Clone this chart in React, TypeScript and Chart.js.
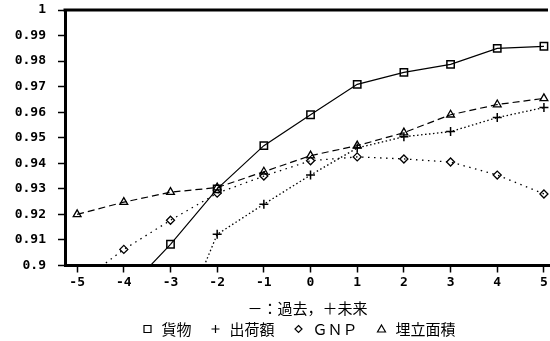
import React, { useEffect, useRef } from "react";
import { Chart, registerables } from "chart.js";

Chart.register(...registerables);

// lead/lag offsets (negative = past, positive = future)
const offsets = [-5, -4, -3, -2, -1, 0, 1, 2, 3, 4, 5];

// correlation series per offset (values below 0.9 run off the bottom of the plot)
const cargo = [null, 0.889, 0.9083, 0.930, 0.9469, 0.959, 0.9709, 0.9756, 0.9787, 0.985, 0.9858];
const shipments = [null, null, 0.868, 0.9122, 0.924, 0.9354, 0.946, 0.9504, 0.9524, 0.9579, 0.9618];
const gnp = [0.8925, 0.9063, 0.9177, 0.9283, 0.935, 0.941, 0.9425, 0.9417, 0.9405, 0.9354, 0.928];
const landfill = [0.920, 0.9248, 0.9287, 0.9305, 0.9367, 0.943, 0.9469, 0.952, 0.959, 0.963, 0.9654];

const seriesNames = ["貨物", "出荷額", "ＧＮＰ", "埋立面積"];
const axisCaption = "－：過去，＋未来";

const yTicks = [0.9, 0.91, 0.92, 0.93, 0.94, 0.95, 0.96, 0.97, 0.98, 0.99, 1];
const yTickLabels = ["0.9", "0.91", "0.92", "0.93", "0.94", "0.95", "0.96", "0.97", "0.98", "0.99", "1"];
const xTicks = [-5, -4, -3, -2, -1, 0, 1, 2, 3, 4, 5];
const xTickLabels = ["-5", "-4", "-3", "-2", "-1", "0", "1", "2", "3", "4", "5"];

const INK = "#000";
const TICK_FONT = { family: "'DejaVu Sans Mono', monospace", size: 13, weight: "bold" as const };
const CJK = "'Noto Sans CJK JP', 'Noto Sans', sans-serif";

const toPoints = (vals: (number | null)[]) =>
  offsets.map((x, i) => ({ x, y: vals[i] as number | null }));

type Marker = "rect" | "cross" | "rectRot" | "triangle";

function drawMarker(ctx: CanvasRenderingContext2D, kind: Marker, x: number, y: number) {
  ctx.beginPath();
  if (kind === "rect") {
    ctx.rect(x - 3.5, y - 3.5, 7, 7);
  } else if (kind === "cross") {
    ctx.moveTo(x - 4, y);
    ctx.lineTo(x + 4, y);
    ctx.moveTo(x, y - 4);
    ctx.lineTo(x, y + 4);
  } else if (kind === "rectRot") {
    ctx.moveTo(x, y - 3.5);
    ctx.lineTo(x + 3.5, y);
    ctx.lineTo(x, y + 3.5);
    ctx.lineTo(x - 3.5, y);
    ctx.closePath();
  } else {
    ctx.moveTo(x, y - 4);
    ctx.lineTo(x + 4, y + 3);
    ctx.lineTo(x - 4, y + 3);
    ctx.closePath();
  }
  ctx.stroke();
}

// thick frame along the top edge plus caption and key under the x axis
const framePlugin = {
  id: "frameAndKey",
  afterDraw(chart: Chart) {
    const { ctx, chartArea } = chart;
    ctx.save();
    ctx.strokeStyle = INK;
    ctx.lineWidth = 3;
    ctx.beginPath();
    ctx.moveTo(chartArea.left - 1.5, chartArea.top);
    ctx.lineTo(chartArea.right - 2, chartArea.top);
    ctx.stroke();

    const mid = (chartArea.left + chartArea.right) / 2;
    ctx.fillStyle = INK;
    ctx.font = `15px ${CJK}`;
    ctx.textAlign = "center";
    ctx.textBaseline = "middle";
    ctx.fillText(axisCaption, mid, 308);

    const markers: Marker[] = ["rect", "cross", "rectRot", "triangle"];
    const markerGap = 10;
    const itemGap = 20;
    ctx.textAlign = "left";
    const widths = seriesNames.map((n) => ctx.measureText(n).width);
    let total = 0;
    widths.forEach((w, i) => {
      total += 8 + markerGap + w + (i < widths.length - 1 ? itemGap : 0);
    });
    let x = mid - 8 - total / 2;
    const y = 329;
    ctx.lineWidth = 1.2;
    seriesNames.forEach((name, i) => {
      drawMarker(ctx, markers[i], x + 4, y);
      x += 8 + markerGap;
      ctx.fillText(name, x, y);
      x += widths[i] + itemGap;
    });
    ctx.restore();
  },
};

export default function App() {
  const canvasRef = useRef<HTMLCanvasElement | null>(null);

  useEffect(() => {
    document.body.style.margin = "0";
    const canvas = canvasRef.current;
    if (!canvas) return;

    const lineBase = {
      borderColor: INK,
      pointBorderColor: INK,
      pointBackgroundColor: "rgba(0,0,0,0)",
      fill: false,
      tension: 0,
      spanGaps: false,
    };

    const chart = new Chart(canvas, {
      type: "line",
      data: {
        datasets: [
          {
            ...lineBase,
            label: seriesNames[0],
            data: toPoints(cargo),
            borderWidth: 1.2,
            pointStyle: "rect",
            pointRadius: 5.2,
            pointBorderWidth: 1.5,
          },
          {
            ...lineBase,
            label: seriesNames[1],
            data: toPoints(shipments),
            borderWidth: 1.3,
            borderDash: [1.5, 2.5],
            pointStyle: "cross",
            pointRadius: 4.5,
            pointBorderWidth: 1.5,
          },
          {
            ...lineBase,
            label: seriesNames[2],
            data: toPoints(gnp),
            borderWidth: 1.3,
            borderDash: [1.5, 4.5],
            pointStyle: "rectRot",
            pointRadius: 4,
            pointBorderWidth: 1.3,
          },
          {
            ...lineBase,
            label: seriesNames[3],
            data: toPoints(landfill),
            borderWidth: 1.2,
            borderDash: [7, 4],
            pointStyle: "triangle",
            pointRadius: 4.5,
            pointBorderWidth: 1.3,
          },
        ],
      },
      options: {
        animation: false,
        responsive: true,
        maintainAspectRatio: false,
        layout: { autoPadding: false, padding: { top: 10, right: 0, bottom: 0, left: 0 } },
        plugins: {
          legend: { display: false },
          tooltip: { enabled: false },
        },
        scales: {
          x: {
            type: "linear",
            min: -5.26,
            max: 5.13,
            afterBuildTicks: (scale: any) => {
              scale.ticks = xTicks.map((value) => ({ value }));
            },
            afterFit: (scale: any) => {
              scale.height = 341 - 265.5;
              scale.paddingLeft = 0;
              scale.paddingRight = 0;
            },
            ticks: {
              color: INK,
              font: TICK_FONT,
              padding: 2,
              maxRotation: 0,
              autoSkip: false,
              callback: (v: any) => xTickLabels[xTicks.indexOf(Number(v))] ?? "",
            },
            grid: {
              drawOnChartArea: false,
              drawTicks: true,
              tickLength: 7,
              tickWidth: 1.5,
              tickColor: INK,
            },
            border: { display: true, color: INK, width: 3 },
          },
          y: {
            type: "linear",
            min: 0.9,
            max: 1,
            afterBuildTicks: (scale: any) => {
              scale.ticks = yTicks.map((value) => ({ value }));
            },
            afterFit: (scale: any) => {
              scale.width = 65;
              scale.paddingTop = 0;
              scale.paddingBottom = 0;
            },
            ticks: {
              color: INK,
              font: TICK_FONT,
              padding: 12,
              autoSkip: false,
              callback: (v: any) => {
                const i = yTicks.findIndex((t) => Math.abs(t - Number(v)) < 1e-6);
                return i >= 0 ? yTickLabels[i] : "";
              },
            },
            grid: {
              drawOnChartArea: false,
              drawTicks: true,
              tickLength: 7,
              tickWidth: 1.5,
              tickColor: INK,
            },
            border: { display: true, color: INK, width: 3 },
          },
        },
      },
      plugins: [framePlugin],
    });

    return () => chart.destroy();
  }, []);

  return (
    <div style={{ width: 550, height: 341, position: "relative", background: "#fff" }}>
      <canvas ref={canvasRef} />
    </div>
  );
}
